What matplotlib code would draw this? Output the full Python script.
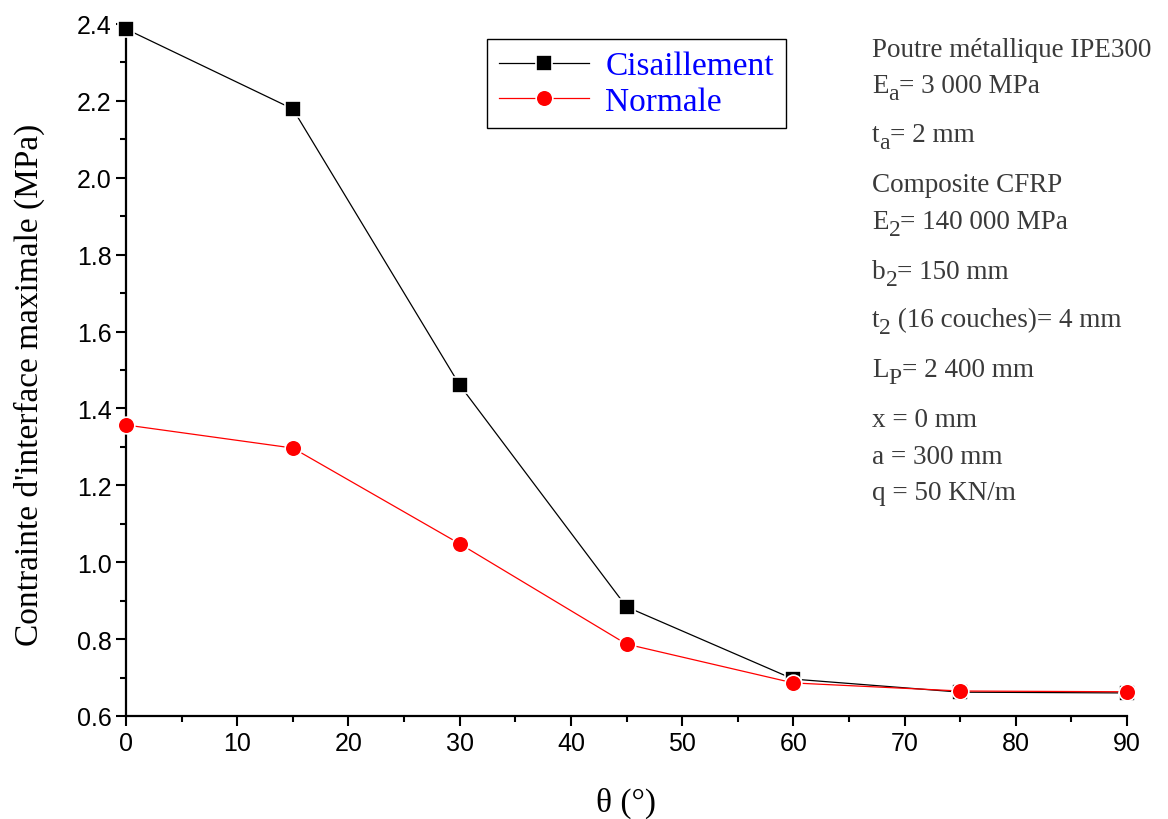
import matplotlib
matplotlib.use('Agg')
import matplotlib.pyplot as plt
from matplotlib.ticker import MultipleLocator, FormatStrFormatter

theta = [0, 15, 30, 45, 60, 75, 90]
cisaillement = [2.387, 2.179, 1.461, 0.884, 0.696, 0.662, 0.660]
normale = [1.357, 1.297, 1.048, 0.787, 0.686, 0.665, 0.663]

# (main text, subscript, rest of line)
info_lines = [
    ("Poutre métallique IPE300", "", ""),
    ("E", "a", "= 3 000 MPa"),
    ("t", "a", "= 2 mm"),
    ("Composite CFRP", "", ""),
    ("E", "2", "= 140 000 MPa"),
    ("b", "2", "= 150 mm"),
    ("t", "2", " (16 couches)= 4 mm"),
    ("L", "P", "= 2 400 mm"),
    ("x = 0 mm", "", ""),
    ("a = 300 mm", "", ""),
    ("q = 50 KN/m", "", ""),
]
# baseline of each info line, in pixels from the top
info_baselines = [57, 93, 142, 192, 229, 279, 327, 377, 427, 464, 500]

plt.rcParams['font.family'] = 'Liberation Sans'

W, H = 1168, 820
fig = plt.figure(figsize=(W / 100, H / 100), dpi=100)
ax = fig.add_axes([126 / W, 1 - 717 / H, (1127 - 126) / W, (717 - 25) / H])

# white marker edge gives the small gap between line and marker
ax.plot(theta, cisaillement, color='black', lw=0.9, marker='s', markersize=11,
        markerfacecolor='black', markeredgecolor='white', markeredgewidth=1.2,
        label='Cisaillement', clip_on=False, zorder=3)
ax.plot(theta, normale, color='red', lw=0.9, marker='o', markersize=12,
        markerfacecolor='red', markeredgecolor='white', markeredgewidth=1.2,
        label='Normale', clip_on=False, zorder=4)

ax.set_xlim(0, 90)
ax.set_ylim(0.6, 2.4)
ax.xaxis.set_major_locator(MultipleLocator(10))
ax.xaxis.set_minor_locator(MultipleLocator(5))
ax.yaxis.set_major_locator(MultipleLocator(0.2))
ax.yaxis.set_minor_locator(MultipleLocator(0.1))
ax.yaxis.set_major_formatter(FormatStrFormatter('%.1f'))

for side in ['top', 'right']:
    ax.spines[side].set_visible(False)
for side in ['left', 'bottom']:
    ax.spines[side].set_linewidth(1.6)

ax.tick_params(which='major', direction='out', length=7, width=1.5, labelsize=18)
ax.tick_params(which='minor', direction='out', length=4, width=1.5)

ax.set_xlabel("θ (°)", fontsize=24, family='Liberation Serif', va='center')
ax.xaxis.set_label_coords((626 - 126) / 1001, (717 - 803) / 692)
ax.set_ylabel("Contrainte d'interface maximale (MPa)", fontsize=24,
              family='Liberation Serif', va='center')
ax.yaxis.set_label_coords((29 - 126) / 1001, (717 - 385) / 692)

leg = ax.legend(loc='upper left', bbox_to_anchor=(487 / W, 1 - 40 / H),
                bbox_transform=fig.transFigure, borderaxespad=0, fancybox=False,
                framealpha=1, edgecolor='black', handlelength=2.7, borderpad=0.35,
                labelspacing=0.15, handletextpad=0.5,
                prop={'family': 'Liberation Serif', 'size': 24})
leg.get_frame().set_linewidth(1.0)
for txt in leg.get_texts():
    txt.set_color('blue')

info_style = dict(fontsize=19.5, color='#3a3a3a', family='Liberation Serif')
for (main, sub, rest), base in zip(info_lines, info_baselines):
    t = fig.text(872 / W, 1 - base / H, main, va='baseline', ha='left', **info_style)
    if sub:
        s = ax.annotate(sub, xy=(1, 0), xycoords=t, xytext=(0, -4),
                        textcoords='offset points', va='bottom', ha='left',
                        **{**info_style, 'fontsize': 17})
        # keep the rest of the line on the main baseline
        ax.annotate(rest, xy=(1, 0), xycoords=t, xytext=(s.get_window_extent(fig.canvas.get_renderer()).width * 72 / 100, 0),
                    textcoords='offset points', va='bottom', ha='left', **info_style)

fig.savefig('out.png', dpi=100)
